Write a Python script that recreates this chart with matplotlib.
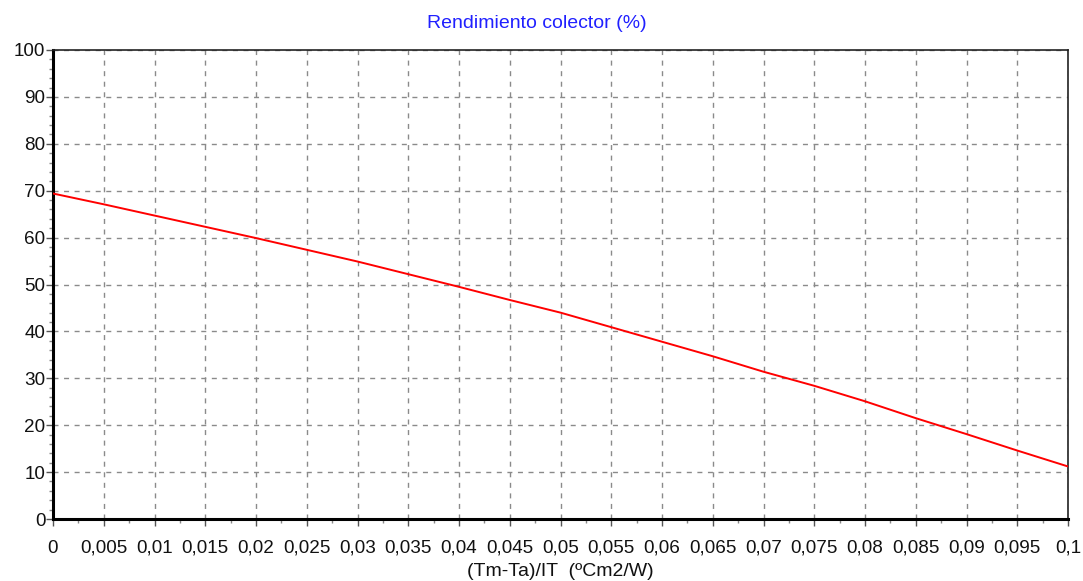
import numpy as np
import matplotlib
matplotlib.use("Agg")
import matplotlib.pyplot as plt
from matplotlib.ticker import MultipleLocator

# Collector efficiency curve
x_vals = [0.0, 0.005, 0.01, 0.015, 0.02, 0.025, 0.03, 0.035, 0.04, 0.045, 0.05,
          0.055, 0.06, 0.065, 0.07, 0.075, 0.08, 0.085, 0.09, 0.095, 0.1]
rendimiento = [69.4, 67.1, 64.7, 62.3, 59.9, 57.4, 54.9, 52.2, 49.5, 46.7, 44.0,
               40.9, 37.8, 34.7, 31.4, 28.4, 25.1, 21.5, 18.1, 14.6, 11.2]

x_ticks = [0.0, 0.005, 0.01, 0.015, 0.02, 0.025, 0.03, 0.035, 0.04, 0.045, 0.05,
           0.055, 0.06, 0.065, 0.07, 0.075, 0.08, 0.085, 0.09, 0.095, 0.1]
x_tick_labels = ["0", "0,005", "0,01", "0,015", "0,02", "0,025", "0,03", "0,035",
                 "0,04", "0,045", "0,05", "0,055", "0,06", "0,065", "0,07",
                 "0,075", "0,08", "0,085", "0,09", "0,095", "0,1"]
y_ticks = [0, 10, 20, 30, 40, 50, 60, 70, 80, 90, 100]

plt.rcParams['font.family'] = ['Liberation Sans', 'DejaVu Sans']

fig = plt.figure(figsize=(10.83, 5.81), dpi=100)
ax = fig.add_axes([53 / 1083, 1 - 519 / 581, (1068 - 53) / 1083, (519 - 50) / 581])

ax.plot(x_vals, rendimiento, color="#ff0000", lw=1.4, zorder=3)

ax.set_xlim(0, 0.1)
ax.set_ylim(0, 100)
ax.set_xticks(x_ticks)
ax.set_xticklabels(x_tick_labels)
ax.set_yticks(y_ticks)
ax.xaxis.set_minor_locator(MultipleLocator(0.0025))
ax.yaxis.set_minor_locator(MultipleLocator(2))

ax.tick_params(which="major", direction="out", length=5, width=1, color="#555555",
               labelsize=13.6, labelcolor="#111111")
ax.tick_params(axis="x", which="major", pad=10)
ax.tick_params(axis="y", which="major", pad=0.5)
ax.tick_params(which="minor", direction="out", length=3, width=1, color="#888888")

ax.grid(which="major", color="#8a8a8a", linestyle=(0, (3.6, 4.0)), linewidth=1)

for side in ["left", "bottom"]:
    ax.spines[side].set_linewidth(2.2)
    ax.spines[side].set_color("black")
for side in ["top", "right"]:
    ax.spines[side].set_linewidth(1.2)
    ax.spines[side].set_color("#222222")

fig.text(537 / 1083, 1 - 24 / 581, "Rendimiento colector (%)", color="#2020ff",
         fontsize=14, ha="center", va="center")
fig.text(560 / 1083, 1 - 572 / 581, "(Tm-Ta)/IT  (ºCm2/W)", color="#111111",
         fontsize=14, ha="center", va="center")

fig.savefig("out.png", dpi=100)
